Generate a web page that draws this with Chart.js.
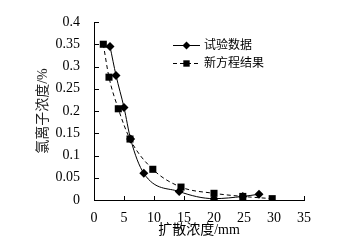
<!DOCTYPE html>
<html>
<head>
<meta charset="utf-8">
<script src="https://cdn.jsdelivr.net/npm/chart.js@4/dist/chart.umd.min.js"></script>
<style>
  html, body { margin: 0; padding: 0; background: #fff; }
  #wrap { width: 357px; height: 247px; }
</style>
</head>
<body>
<div id="wrap"><canvas id="grafico"></canvas></div>
<script>
// datos
var shiyan_x = [2.67, 3.67, 5.0, 6.1, 8.3, 14.2, 20.0, 24.8, 27.5];
var shiyan_y = [0.345, 0.28, 0.208, 0.137, 0.06, 0.019, 0.003, 0.008, 0.013];
var fangcheng_x = [1.55, 2.5, 4.05, 6.0, 9.8, 14.5, 20.0, 24.8, 29.7];
var fangcheng_y = [0.35, 0.276, 0.205, 0.137, 0.069, 0.029, 0.015, 0.008, 0.003];
var serie_labels = ['试验数据', '新方程结果'];
var x_ticks = [0, 5, 10, 15, 20, 25, 30, 35];
var y_ticks = [0, 0.05, 0.1, 0.15, 0.2, 0.25, 0.3, 0.35, 0.4];

var fuente = "'Liberation Serif', 'Times New Roman', serif";
var fuenteCJK = "'Liberation Serif', 'Noto Sans CJK SC', serif";

function puntos(xs, ys) {
    var res = [];
    for (i = 0; i < xs.length; i++) {
        res.push({ x: xs[i], y: ys[i] });
    }
    return res;
}

// marcas de eje hacia adentro
var ticksAdentro = {
    id: 'ticksAdentro',
    afterDraw: function (chart) {
        var c = chart.ctx;
        var xs = chart.scales.x, ys = chart.scales.y;
        c.save();
        c.strokeStyle = '#000';
        c.lineWidth = 1;
        c.beginPath();
        x_ticks.forEach(function (v) {
            var px = Math.round(xs.getPixelForValue(v)) + 0.5;
            c.moveTo(px, ys.bottom);
            c.lineTo(px, ys.bottom - 4);
        });
        y_ticks.forEach(function (v) {
            var py = Math.round(ys.getPixelForValue(v)) + 0.5;
            c.moveTo(xs.left, py);
            c.lineTo(xs.left + 5, py);
        });
        c.stroke();
        c.restore();
    }
};

// leyenda con linea y marcador
var leyenda = {
    id: 'leyenda',
    afterDraw: function (chart) {
        var c = chart.ctx;
        var x0 = 173, x1 = 200, y0 = 45, dy = 18;
        chart.data.datasets.forEach(function (ds, k) {
            var y = y0 + k * dy + 0.5;
            c.save();
            c.strokeStyle = '#000';
            c.lineWidth = 1;
            c.setLineDash(ds.borderDash || []);
            c.beginPath();
            c.moveTo(x0, y);
            c.lineTo(x1, y);
            c.stroke();
            c.setLineDash([]);
            Chart.helpers.drawPoint(c, {
                pointStyle: ds.pointStyle,
                radius: ds.pointRadius - 0.5,
                borderWidth: 0
            }, (x0 + x1) / 2, y);
            c.fillStyle = '#000';
            c.font = "12px " + fuenteCJK;
            c.textBaseline = 'middle';
            c.fillText(ds.label, x1 + 4, y);
            c.restore();
        });
    }
};

var ctx = document.getElementById('grafico').getContext('2d');
var grafico = new Chart(ctx, {
    type: 'scatter',
    data: {
        datasets: [{
            label: serie_labels[0],
            data: puntos(shiyan_x, shiyan_y),
            showLine: true,
            cubicInterpolationMode: 'monotone',
            borderColor: '#000',
            backgroundColor: '#000',
            borderWidth: 1,
            pointStyle: 'rectRot',
            pointRadius: 4.5,
            pointBorderWidth: 0
        }, {
            label: serie_labels[1],
            data: puntos(fangcheng_x, fangcheng_y),
            showLine: true,
            cubicInterpolationMode: 'monotone',
            borderColor: '#000',
            backgroundColor: '#000',
            borderWidth: 1,
            borderDash: [4, 3],
            pointStyle: 'rect',
            pointRadius: 5,
            pointBorderWidth: 0
        }]
    },
    options: {
        responsive: true,
        maintainAspectRatio: false,
        animation: false,
        layout: { padding: { top: 22, right: 53, left: 0, bottom: 0 } },
        plugins: {
            legend: { display: false },
            tooltip: { enabled: false }
        },
        scales: {
            x: {
                type: 'linear',
                min: 0, max: 35,
                afterBuildTicks: function (s) { s.ticks = x_ticks.map(function (v) { return { value: v }; }); },
                afterFit: function (s) { s.height = 47; },
                border: { display: true, color: '#000', width: 1 },
                grid: { display: false },
                ticks: { color: '#000', padding: 2, maxRotation: 0, font: { family: fuente, size: 14 } },
                title: {
                    display: true, text: '扩散浓度/mm', color: '#000',
                    font: { family: fuenteCJK, size: 14 }, padding: { top: 0, bottom: 8 }
                }
            },
            y: {
                type: 'linear',
                min: 0, max: 0.4,
                afterBuildTicks: function (s) { s.ticks = y_ticks.map(function (v) { return { value: v }; }); },
                afterFit: function (s) { s.width = 94; },
                border: { display: true, color: '#000', width: 1 },
                grid: { display: false },
                ticks: {
                    color: '#000', padding: 6, font: { family: fuente, size: 14 },
                    callback: function (v) { return String(Number(v.toFixed(2))); }
                },
                title: {
                    display: true, text: '氯离子浓度/%', color: '#222',
                    font: { family: fuenteCJK, size: 14 }, padding: { top: 35, bottom: 0 }
                }
            }
        }
    },
    plugins: [ticksAdentro, leyenda]
});
</script>
</body>
</html>
